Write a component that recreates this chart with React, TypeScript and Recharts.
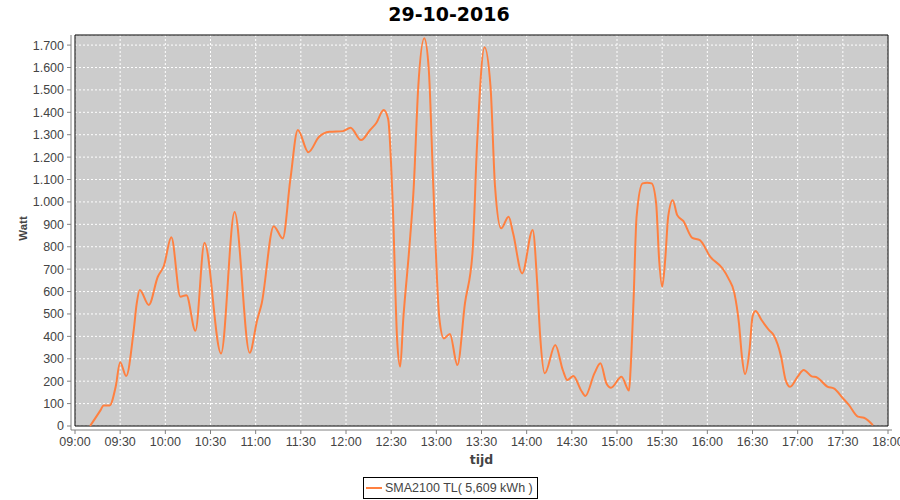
import React from "react";
import {
  LineChart,
  Line,
  XAxis,
  YAxis,
  CartesianGrid,
  ReferenceArea,
  Legend,
} from "recharts";

const times = [
  "09:10", "09:17", "09:19", "09:23", "09:27", "09:30", "09:34", "09:39", "09:41", "09:43",
  "09:49", "09:55", "09:59", "10:04", "10:10", "10:14", "10:20", "10:26", "10:37", "10:46",
  "10:56", "11:01", "11:04", "11:12", "11:18", "11:23", "11:28", "11:35", "11:42", "11:49",
  "11:58", "12:03", "12:10", "12:16", "12:20", "12:25", "12:28", "12:31", "12:34", "12:36",
  "12:38", "12:42", "12:45", "12:48", "12:52", "12:55", "12:58", "13:02", "13:05", "13:09",
  "13:14", "13:19", "13:24", "13:27", "13:32", "13:36", "13:39", "13:43", "13:48", "13:51",
  "13:57", "14:04", "14:07", "14:09", "14:12", "14:19", "14:24", "14:27", "14:31", "14:36",
  "14:39", "14:45", "14:49", "14:53", "14:56", "15:03", "15:08", "15:09", "15:11", "15:13",
  "15:17", "15:20", "15:23", "15:26", "15:28", "15:30", "15:32", "15:34", "15:37", "15:40",
  "15:44", "15:50", "15:55", "16:02", "16:10", "16:14", "16:18", "16:21", "16:23", "16:25",
  "16:28", "16:30", "16:32", "16:36", "16:41", "16:44", "16:49", "16:52", "16:55", "17:00",
  "17:04", "17:09", "17:13", "17:20", "17:24", "17:30", "17:34", "17:40", "17:44", "17:50",
];

const watts = [
  0, 71, 92, 92, 175, 284, 223, 428, 547, 607,
  540, 666, 714, 842, 577, 584, 425, 818, 324, 955,
  327, 473, 547, 892, 837, 1098, 1321, 1222, 1290, 1313,
  1316, 1331, 1276, 1321, 1351, 1410, 1370, 1000, 380, 265,
  473, 790, 1068, 1514, 1730, 1589, 1068, 480, 391, 411,
  272, 547, 771, 1250, 1690, 1514, 1068, 882, 934, 860,
  681, 875, 637, 398, 235, 361, 250, 205, 223, 161,
  134, 235, 280, 190, 171, 220, 158, 250, 562, 934,
  1083, 1086, 1083, 994, 741, 622, 741, 934, 1008, 941,
  915, 840, 830, 755, 704, 659, 592, 458, 309, 232,
  339, 488, 513, 473, 428, 406, 309, 205, 175, 220,
  250, 223, 216, 175, 168, 124, 94, 42, 37, 4,
];

const xTickLabels = [
  "09:00", "09:30", "10:00", "10:30", "11:00", "11:30", "12:00", "12:30", "13:00",
  "13:30", "14:00", "14:30", "15:00", "15:30", "16:00", "16:30", "17:00", "17:30", "18:00",
];

const yTickValues = [
  0, 100, 200, 300, 400, 500, 600, 700, 800, 900, 1000, 1100, 1200, 1300, 1400, 1500, 1600, 1700,
];

const title = "29-10-2016";
const seriesName = "SMA2100 TL( 5,609 kWh )";
const yLabel = "Watt";
const xLabel = "tijd";

const toMin = (t: string) => {
  const [h, m] = t.split(":").map(Number);
  return h * 60 + m;
};
const fmtMin = (v: number) => {
  const h = Math.floor(v / 60);
  const m = v % 60;
  return `${String(h).padStart(2, "0")}:${String(m).padStart(2, "0")}`;
};
const fmtW = (v: number) => String(v).replace(/\B(?=(\d{3})+(?!\d))/g, ".");

const data = times.map((t, i) => ({ t: toMin(t), w: watts[i] }));
const xTicks = xTickLabels.map(toMin);
const X_MIN = xTicks[0];
const X_MAX = xTicks[xTicks.length - 1];
const Y_MAX = 1745;

// layout constants (pixels)
const CHART_W = 900;
const CHART_H = 500;
const M_TOP = 35;
const M_RIGHT = 8;
const Y_AXIS_W = 71;
const X_AXIS_H = 70;
const GAP = 4; // gap between axis lines and data area
const DATA_W = CHART_W - M_RIGHT - Y_AXIS_W - 2 * GAP;
const DATA_H = CHART_H - M_TOP - X_AXIS_H - GAP;
// size of the gap expressed in data units (for masking strips)
const GAP_X = (GAP * (X_MAX - X_MIN)) / DATA_W;
const GAP_Y = (GAP * Y_MAX) / DATA_H;

const tickFont = "'Liberation Sans', Arial, sans-serif";
const LINE_COLOR = "#ff8040";

export default function App() {
  return (
    <div style={{ position: "absolute", left: 0, top: 0, width: CHART_W, height: CHART_H, background: "#fff" }}>
      <div
        style={{
          position: "absolute",
          left: 0,
          top: 5,
          width: 898,
          textAlign: "center",
          fontFamily: "'DejaVu Sans', sans-serif",
          fontWeight: "bold",
          fontSize: 19,
          lineHeight: "19px",
          color: "#000",
        }}
      >
        {title}
      </div>
      <LineChart
        width={CHART_W}
        height={CHART_H}
        data={data}
        margin={{ top: M_TOP, right: M_RIGHT, bottom: 0, left: 0 }}
      >
        <CartesianGrid stroke="#ffffff" strokeDasharray="2 2" fill="#cccccc" fillOpacity={1} />
        {/* white strips masking the gap between axis lines and the plot */}
        <ReferenceArea
          x1={X_MIN - GAP_X * 1.2}
          x2={X_MIN}
          y1={-GAP_Y * 1.2}
          y2={Y_MAX}
          fill="#ffffff"
          fillOpacity={1}
          stroke="none"
          ifOverflow="visible"
        />
        <ReferenceArea
          x1={X_MAX}
          x2={X_MAX + GAP_X * 1.2}
          y1={-GAP_Y * 1.2}
          y2={Y_MAX}
          fill="#ffffff"
          fillOpacity={1}
          stroke="none"
          ifOverflow="visible"
        />
        <ReferenceArea
          x1={X_MIN - GAP_X * 1.2}
          x2={X_MAX + GAP_X * 1.2}
          y1={-GAP_Y * 1.2}
          y2={0}
          fill="#ffffff"
          fillOpacity={1}
          stroke="none"
          ifOverflow="visible"
        />
        <ReferenceArea
          x1={X_MIN}
          x2={X_MAX}
          y1={0}
          y2={Y_MAX}
          fill="none"
          stroke="#000000"
          strokeWidth={1}
          ifOverflow="visible"
        />
        <XAxis
          dataKey="t"
          type="number"
          domain={[X_MIN, X_MAX]}
          ticks={xTicks}
          interval={0}
          tickFormatter={fmtMin}
          height={X_AXIS_H}
          padding={{ left: GAP, right: GAP }}
          stroke="#808080"
          tickSize={4}
          tickMargin={3}
          tick={{ fill: "#444444", fontSize: 12.5, fontFamily: tickFont }}
          label={{
            content: (props: any) => {
              const vb = props.viewBox;
              return (
                <text
                  x={vb.x + vb.width / 2}
                  y={vb.y + 34}
                  textAnchor="middle"
                  fill="#444444"
                  fontFamily="'DejaVu Sans', sans-serif"
                  fontWeight="bold"
                  fontSize={12.5}
                >
                  {xLabel}
                </text>
              );
            },
          }}
        />
        <YAxis
          type="number"
          domain={[0, Y_MAX]}
          ticks={yTickValues}
          interval={0}
          tickFormatter={fmtW}
          width={Y_AXIS_W}
          padding={{ top: 0, bottom: GAP }}
          stroke="#808080"
          tickSize={4}
          tickMargin={3}
          tick={{ fill: "#444444", fontSize: 12.5, fontFamily: tickFont }}
          label={{
            content: (props: any) => {
              const vb = props.viewBox;
              const cx = vb.x + 23;
              const cy = vb.y + (vb.height - GAP) / 2 - 2;
              return (
                <text
                  x={cx}
                  y={cy}
                  transform={`rotate(-90, ${cx}, ${cy})`}
                  textAnchor="middle"
                  dominantBaseline="central"
                  fill="#444444"
                  fontFamily={tickFont}
                  fontWeight="bold"
                  fontSize={11.5}
                >
                  {yLabel}
                </text>
              );
            },
          }}
        />
        <Legend
          layout="horizontal"
          verticalAlign="middle"
          align="center"
          wrapperStyle={{ top: 477, left: 363, width: 175, height: 22 }}
          content={() => (
            <div
              style={{
                boxSizing: "border-box",
                width: 175,
                height: 22,
                border: "1px solid #000",
                display: "flex",
                alignItems: "center",
                paddingLeft: 2,
                fontFamily: tickFont,
                fontSize: 12.5,
                color: "#444444",
                background: "#fff",
                whiteSpace: "nowrap",
              }}
            >
              <svg width={19} height={6} style={{ display: "block" }}>
                <line x1={0} y1={3} x2={16} y2={3} stroke={LINE_COLOR} strokeWidth={2} />
              </svg>
              <span>{seriesName}</span>
            </div>
          )}
        />
        <Line
          type="monotone"
          dataKey="w"
          name={seriesName}
          stroke={LINE_COLOR}
          strokeWidth={2}
          dot={false}
          activeDot={false}
          isAnimationActive={false}
        />
      </LineChart>
    </div>
  );
}
